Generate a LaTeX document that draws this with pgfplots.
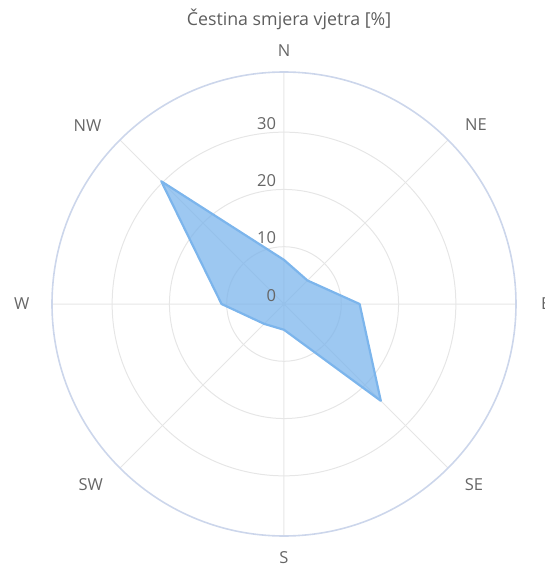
\documentclass[border=0pt]{standalone}
\usepackage{fontspec}
\setmainfont{Open Sans}
\usepackage{pgfplots}
\pgfplotsset{compat=1.18}
\usepgfplotslibrary{polar}
\definecolor{series}{HTML}{7CB5EC}
\definecolor{gridc}{HTML}{E6E6E6}
\definecolor{axc}{HTML}{CCD6EB}
\definecolor{lab}{HTML}{666666}
\definecolor{ttl}{HTML}{5E5E5E}
\begin{document}
\begin{tikzpicture}[x=1pt,y=1pt]
\begin{polaraxis}[
  scale only axis, width=464pt, height=464pt,
  xmin=0, xmax=360, ymin=0, ymax=40.5,
  xtick={0,45,...,315}, ytick={10,20,30},
  xticklabels={}, yticklabels={},
  major tick length=0pt,
  grid=major,
  major grid style={draw=gridc, line width=1pt},
  axis line style={draw=axc, line width=1.6pt},
  y axis line style={draw=none},
  clip=false,
]
\addplot[draw=series, line width=2.2pt, fill=series, fill opacity=0.75, line join=round]
  coordinates {(90,7.7) (45,5.8) (0,13.2) (315,23.9) (270,4.5) (225,4.9) (180,10.9) (135,30.3)} -- cycle;
\coordinate (c) at (axis cs:0,0);
\begin{scope}[every node/.style={font=\fontsize{16.5}{19}\selectfont, text=lab}]
\node[anchor=base east] at ([shift={(-4.5pt,3pt)}]axis cs:90,0) {0};
\node[anchor=base east] at ([shift={(-4.5pt,3pt)}]axis cs:90,10) {10};
\node[anchor=base east] at ([shift={(-4.5pt,3pt)}]axis cs:90,20) {20};
\node[anchor=base east] at ([shift={(-4.5pt,3pt)}]axis cs:90,30) {30};
\node at (axis cs:90,44.2) {N};
\node at (axis cs:43,45.8) {NE};
\node[overlay] at (axis cs:0,45.7) {E};
\node at (axis cs:316.4,45.8) {SE};
\node at (axis cs:270,44.3) {S};
\node at (axis cs:223.1,46.2) {SW};
\node at (axis cs:180,45.8) {W};
\node at (axis cs:137.7,46.4) {NW};
\end{scope}
\end{polaraxis}
\node[anchor=base, font=\fontsize{17.8}{21}\selectfont, text=ttl] at ([shift={(5pt,278pt)}]c) {Čestina smjera vjetra [\%]};
\useasboundingbox ([shift={(-284pt,-264pt)}]c) rectangle ([shift={(260pt,304pt)}]c);
\end{tikzpicture}
\end{document}
